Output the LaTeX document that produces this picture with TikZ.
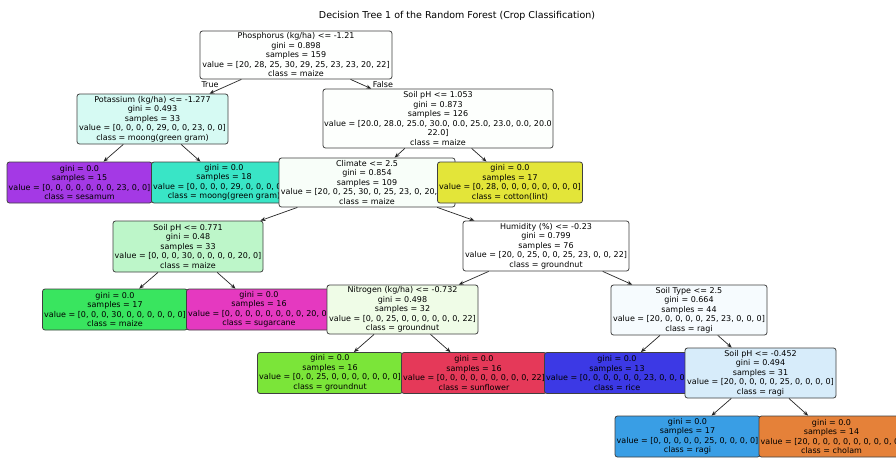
\documentclass[tikz,border=0pt]{standalone}
\usepackage{fontspec}
\setmainfont{DejaVu Sans}
\usetikzlibrary{arrows.meta}
\definecolor{cRoot}{RGB}{254,255,254}
\definecolor{cPot}{RGB}{214,250,243}
\definecolor{cSphA}{RGB}{253,255,253}
\definecolor{cSes}{RGB}{164,57,229}
\definecolor{cMoong}{RGB}{57,229,198}
\definecolor{cClim}{RGB}{248,254,249}
\definecolor{cCot}{RGB}{227,229,57}
\definecolor{cSphB}{RGB}{189,246,201}
\definecolor{cHum}{RGB}{255,255,255}
\definecolor{cMaize}{RGB}{57,229,95}
\definecolor{cSug}{RGB}{229,57,192}
\definecolor{cNit}{RGB}{239,252,231}
\definecolor{cSoilT}{RGB}{246,251,254}
\definecolor{cGnut}{RGB}{123,229,57}
\definecolor{cSunf}{RGB}{229,57,89}
\definecolor{cRice}{RGB}{60,57,229}
\definecolor{cSphC}{RGB}{215,236,250}
\definecolor{cRagi}{RGB}{57,158,229}
\definecolor{cCholam}{RGB}{229,129,57}
\begin{document}
\begin{tikzpicture}[x=1pt,y=-1pt,
  tn/.style={draw=black!75, line width=0.8pt, rounded corners=2.5pt, align=center, inner sep=0pt, font=\fontsize{8}{9.5}\selectfont},
  leaf/.style={tn, minimum width=145pt, minimum height=41pt},
  lbl/.style={font=\fontsize{8}{9.5}\selectfont, inner sep=0pt},
  edge/.style={draw=black!85, line width=0.7pt, -{Stealth[length=5pt,width=4pt]}}]
\useasboundingbox (0,0) rectangle (896,459);
\clip (0,0) rectangle (896,459);
\fill[white] (0,0) rectangle (896,459);
\node[font=\fontsize{9.5}{11}\selectfont, inner sep=0pt] (title) at (457,16) {Decision Tree 1 of the Random Forest (Crop Classification)};
\node[tn, fill=cRoot, minimum width=192pt, minimum height=48pt] (root) at (296,55) {Phosphorus (kg/ha) <= -1.21\\gini = 0.898\\samples = 159\\value = [20, 28, 25, 30, 29, 25, 23, 23, 20, 22]\\class = maize};
\node[tn, fill=cPot, minimum width=151pt, minimum height=50pt] (pot) at (152.5,119) {Potassium (kg/ha) <= -1.277\\gini = 0.493\\samples = 33\\value = [0, 0, 0, 0, 29, 0, 0, 23, 0, 0]\\class = moong(green gram)};
\node[leaf, fill=cSes] (ses) at (79.5,182.5) {gini = 0.0\\samples = 15\\value = [0, 0, 0, 0, 0, 0, 0, 23, 0, 0]\\class = sesamum};
\node[leaf, fill=cMoong] (moong) at (224,182.5) {gini = 0.0\\samples = 18\\value = [0, 0, 0, 0, 29, 0, 0, 0, 0, 0]\\class = moong(green gram)};
\node[tn, fill=cSphA, minimum width=230pt, minimum height=59pt] (sph1) at (438,118.5) {Soil pH <= 1.053\\gini = 0.873\\samples = 126\\value = [20.0, 28.0, 25.0, 30.0, 0.0, 25.0, 23.0, 0.0, 20.0\\22.0]\\class = maize};
\node[tn, fill=cClim, minimum width=176pt, minimum height=49pt] (clim) at (367,182.5) {Climate <= 2.5\\gini = 0.854\\samples = 109\\value = [20, 0, 25, 30, 0, 25, 23, 0, 20, 22]\\class = maize};
\node[tn, fill=cSphB, minimum width=150pt, minimum height=51pt] (sph2) at (188,246.5) {Soil pH <= 0.771\\gini = 0.48\\samples = 33\\value = [0, 0, 0, 30, 0, 0, 0, 0, 20, 0]\\class = maize};
\node[leaf, fill=cMaize] (maize) at (115,309.5) {gini = 0.0\\samples = 17\\value = [0, 0, 0, 30, 0, 0, 0, 0, 0, 0]\\class = maize};
\node[leaf, fill=cSug] (sug) at (259,309.5) {gini = 0.0\\samples = 16\\value = [0, 0, 0, 0, 0, 0, 0, 0, 20, 0]\\class = sugarcane};
\node[tn, fill=cHum, minimum width=166pt, minimum height=50pt] (hum) at (546,246) {Humidity (\%) <= -0.23\\gini = 0.799\\samples = 76\\value = [20, 0, 25, 0, 0, 25, 23, 0, 0, 22]\\class = groundnut};
\node[tn, fill=cNit, minimum width=151pt, minimum height=49pt] (nit) at (402.5,309.5) {Nitrogen (kg/ha) <= -0.732\\gini = 0.498\\samples = 32\\value = [0, 0, 25, 0, 0, 0, 0, 0, 0, 22]\\class = groundnut};
\node[leaf, fill=cGnut] (gnut) at (330,373) {gini = 0.0\\samples = 16\\value = [0, 0, 25, 0, 0, 0, 0, 0, 0, 0]\\class = groundnut};
\node[leaf, fill=cSunf] (sunf) at (474,373) {gini = 0.0\\samples = 16\\value = [0, 0, 0, 0, 0, 0, 0, 0, 0, 22]\\class = sunflower};
\node[tn, fill=cSoilT, minimum width=156pt, minimum height=50pt] (soilt) at (689,310) {Soil Type <= 2.5\\gini = 0.664\\samples = 44\\value = [20, 0, 0, 0, 0, 25, 23, 0, 0, 0]\\class = ragi};
\node[leaf, fill=cRice] (rice) at (617,373) {gini = 0.0\\samples = 13\\value = [0, 0, 0, 0, 0, 0, 23, 0, 0, 0]\\class = rice};
\node[tn, fill=cSphC, minimum width=151pt, minimum height=50pt] (sph3) at (760.5,373) {Soil pH <= -0.452\\gini = 0.494\\samples = 31\\value = [20, 0, 0, 0, 0, 25, 0, 0, 0, 0]\\class = ragi};
\node[leaf, fill=cRagi] (ragi) at (687.5,436.5) {gini = 0.0\\samples = 17\\value = [0, 0, 0, 0, 0, 25, 0, 0, 0, 0]\\class = ragi};
\node[leaf, fill=cCholam] (cholam) at (831.5,436.5) {gini = 0.0\\samples = 14\\value = [20, 0, 0, 0, 0, 0, 0, 0, 0, 0]\\class = cholam};
\node[leaf, fill=cCot] (cot) at (510,182.5) {gini = 0.0\\samples = 17\\value = [0, 28, 0, 0, 0, 0, 0, 0, 0, 0]\\class = cotton(lint)};
\node[lbl] (tlab) at (210,85) {True};
\node[lbl] (flab) at (383,85) {False};
\draw[edge] (root) -- (pot);
\draw[edge] (root) -- (sph1);
\draw[edge] (pot) -- (ses);
\draw[edge] (pot) -- (moong);
\draw[edge] (sph1) -- (clim);
\draw[edge] (sph1) -- (cot);
\draw[edge] (clim) -- (sph2);
\draw[edge] (clim) -- (hum);
\draw[edge] (sph2) -- (maize);
\draw[edge] (sph2) -- (sug);
\draw[edge] (hum) -- (nit);
\draw[edge] (hum) -- (soilt);
\draw[edge] (nit) -- (gnut);
\draw[edge] (nit) -- (sunf);
\draw[edge] (soilt) -- (rice);
\draw[edge] (soilt) -- (sph3);
\draw[edge] (sph3) -- (ragi);
\draw[edge] (sph3) -- (cholam);
\end{tikzpicture}
\end{document}
